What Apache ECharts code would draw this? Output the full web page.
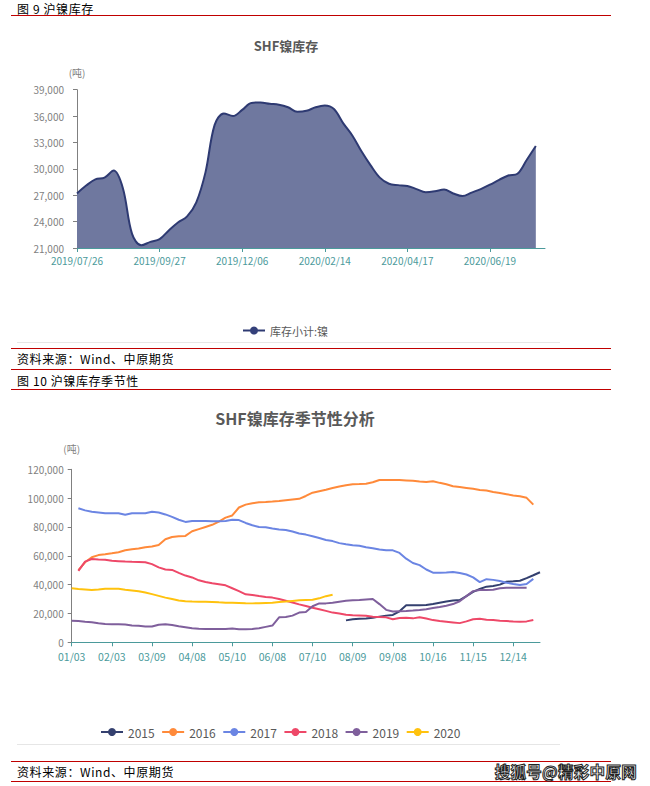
<!DOCTYPE html>
<html><head><meta charset="utf-8">
<script src="https://cdn.jsdelivr.net/npm/echarts@6/dist/echarts.min.js"></script>
<style>
html,body{margin:0;padding:0;background:#fff;}
#wrap{position:relative;width:650px;height:786px;overflow:hidden;font-family:"Noto Sans CJK SC","Noto Sans",sans-serif;}
#chart{position:absolute;left:0;top:0;width:650px;height:786px;}
.hd{position:absolute;left:17px;font-size:12px;line-height:13px;color:#000;letter-spacing:0.6px;white-space:nowrap;}
.rl{position:absolute;left:11px;width:600px;height:0;border-top:1.5px solid #c00000;}
.gl{position:absolute;left:17px;width:543px;height:0;border-top:1px solid #e6e6e6;}
#wm{position:absolute;right:13px;top:760px;font-size:15.5px;font-weight:bold;color:#fff;-webkit-text-stroke:1px #222;white-space:nowrap;letter-spacing:0.3px;}
</style></head>
<body><div id="wrap">
<div id="chart"></div>
<div class="hd" style="top:2px">图 9 沪镍库存</div>
<div class="rl" style="top:15px"></div>
<div class="gl" style="top:342px"></div>
<div class="rl" style="top:348px"></div>
<div class="hd" style="top:352px">资料来源：Wind、中原期货</div>
<div class="rl" style="top:369px"></div>
<div class="hd" style="top:374px">图 10 沪镍库存季节性</div>
<div class="rl" style="top:389px"></div>
<div class="gl" style="top:744px"></div>
<div class="rl" style="top:761px"></div>
<div class="hd" style="top:765px">资料来源：Wind、中原期货</div>
<div class="rl" style="top:781px"></div>
<div id="wm">搜狐号@精彩中原网</div>
</div>
<script>
// ---- Figure 9 data ----
var invDates = ['2019/07/26','2019/08/02','2019/08/09','2019/08/16','2019/08/23','2019/08/30','2019/09/06','2019/09/13','2019/09/20','2019/09/27',
'2019/10/11','2019/10/18','2019/10/25','2019/11/01','2019/11/08','2019/11/15','2019/11/22','2019/11/29','2019/12/06',
'2019/12/13','2019/12/20','2019/12/27','2020/01/03','2020/01/10','2020/01/17','2020/01/23','2020/02/07','2020/02/14',
'2020/02/21','2020/02/28','2020/03/06','2020/03/13','2020/03/20','2020/03/27','2020/04/03','2020/04/10','2020/04/17',
'2020/04/24','2020/04/30','2020/05/08','2020/05/15','2020/05/22','2020/05/29','2020/06/05','2020/06/12','2020/06/19',
'2020/06/24','2020/07/03','2020/07/10','2020/07/17','2020/07/24','2020/07/31'];
var invValues = [27200,28100,28800,29000,29800,27800,22600,21300,21700,22000,
23000,23900,24600,26200,29600,35000,36300,36000,36700,
37500,37550,37400,37300,37000,36500,36600,37000,37200,
36800,35200,33800,32000,30400,29000,28300,28150,28050,
27700,27350,27450,27650,27200,26900,27300,27700,28200,
28750,29250,29450,31000,32600];
var invYTicks = {min:21000, max:39000, interval:3000};

// ---- Figure 10 data ----
var seasonDates = ['01/03','01/08','01/13','01/18','01/23','01/28','02/03','02/09','02/15','02/21','02/27','03/03',
'03/09','03/14','03/19','03/24','03/29','04/03','04/08','04/13','04/18','04/23','04/28','05/04',
'05/10','05/15','05/20','05/25','05/30','06/03','06/08','06/13','06/18','06/23','06/28','07/04',
'07/10','07/15','07/20','07/25','07/30','08/04','08/09','08/14','08/19','08/24','08/29','09/03',
'09/08','09/14','09/20','09/26','10/04','10/10','10/16','10/21','10/26','10/31','11/05','11/10',
'11/15','11/20','11/25','11/30','12/04','12/09','12/14','12/18','12/22','12/26','12/31'];
var years = ['2015','2016','2017','2018','2019','2020'];
var s2015 = [null,null,null,null,null,null,null,null,null,null,null,null,null,null,null,null,null,null,null,null,
null,null,null,null,null,null,null,null,null,null,null,null,null,null,null,null,null,null,null,null,null,
15200,16000,16300,16500,17000,17800,18500,19000,21500,25700,25700,25700,25800,26600,27500,28300,29000,29300,
32000,35000,37000,38600,39000,40000,42000,42300,42700,44500,46500,48600];
var s2016 = [null,50000,55500,59000,60500,61000,61700,62500,63800,64500,65000,66000,66500,67500,71500,73000,73500,73800,77000,78500,80000,81500,83700,86500,
88000,93500,95500,96500,97100,97300,97600,98000,98500,99000,99500,101500,103800,104800,105800,107000,108000,109000,109700,109800,110000,111000,112600,112600,
112500,112600,112300,112000,111500,111200,111700,110600,109600,108300,107700,107100,106500,105700,105300,104300,103500,102700,101900,101300,100200,95500,null];
var s2017 = [null,93000,91500,90500,90000,89500,89500,89500,88500,89500,89500,89500,90500,90000,88700,87000,85000,83500,84200,84200,84200,84000,84000,84200,
85000,84800,82800,81200,80000,79800,79000,78300,77900,76800,75500,74700,73600,72300,71000,70200,68800,68000,67300,67000,66000,65300,64300,63800,
63800,62000,58000,55000,53500,50500,48300,48300,48500,48800,48000,47000,45000,41700,43800,43300,42500,41300,40500,39800,40400,44000,null];
var s2018 = [null,49500,56000,57800,57500,57300,56500,56300,56000,55800,55700,55500,54200,52000,50500,50200,48200,46300,45000,43000,41800,41000,40300,39500,
37500,35500,33300,32800,32100,31500,31000,30000,28800,27600,26300,25200,24000,22900,21800,20600,20000,19100,18800,18600,18400,17800,17500,17300,
16000,16800,17100,16600,17300,16500,15400,14800,14300,13800,13300,14500,16000,16400,15700,15400,15000,14700,14400,14300,14500,15500,null];
var s2019 = [15000,14800,14300,13900,13200,12700,12600,12500,12300,11700,11400,11000,10900,12200,12500,12000,11200,10500,9800,9400,9200,9200,9200,9200,
9500,9000,9000,9200,9800,10700,11600,17300,17500,18500,20600,21000,25000,27000,27000,27500,28200,28800,29200,29400,29700,30000,26500,22500,
21300,21500,21700,22000,22400,23000,23800,24500,25400,26500,28500,32000,35500,36300,36300,36500,37500,37900,37900,37900,37900,null,null];
var s2020 = [37500,37000,36700,36300,36700,37200,37200,37200,36500,36000,35400,34500,33400,32200,31000,30000,29000,28500,28300,28200,28100,28000,27700,27500,
27400,27300,27100,27000,27100,27300,27500,28000,28300,28700,29100,29400,29500,30500,32000,33000,
null,null,null,null,null,null,null,null,null,null,null,null,null,null,null,null,null,null,null,null,null,null,null,null,null,null,null,null,null,null,null];
var seasonSeries = [s2015,s2016,s2017,s2018,s2019,s2020];
var seasonColors = ['#34406f','#ff8a3a','#6b85e3','#ee4868','#7f5f9c','#ffc20e'];
var seasonYTicks = {min:0, max:120000, interval:20000};

var FONT = '"Noto Sans CJK SC","Noto Sans",sans-serif';
var TEAL = '#4b9a9b';
var GRAY = '#7f7f7f';
function fmt(v){ return String(v).replace(/\B(?=(\d{3})+(?!\d))/g, ','); }

var chart = echarts.init(document.getElementById('chart'), null, {renderer:'svg', width:650, height:786});
var series = [{
  name:'库存小计:镍', type:'line', xAxisIndex:0, yAxisIndex:0, data:invValues,
  smooth:0.35, symbol:'circle', showSymbol:false, symbolSize:8,
  lineStyle:{color:'#2e3a72', width:2}, itemStyle:{color:'#34407a'},
  areaStyle:{color:'#6f789f', opacity:1}
}];
years.forEach(function(y,i){
  series.push({name:y, type:'line', xAxisIndex:1, yAxisIndex:1, data:seasonSeries[i],
    symbol:'circle', showSymbol:false, symbolSize:8,
    lineStyle:{color:seasonColors[i], width:2}, itemStyle:{color:seasonColors[i]}});
});
chart.setOption({
  animation:false,
  textStyle:{fontFamily:FONT},
  graphic:[
    {type:'text', x:286, y:45, style:{text:'SHF镍库存', font:'bold 13px '+FONT, fill:'#595959', align:'center', verticalAlign:'middle'}},
    {type:'text', x:295, y:418, style:{text:'SHF镍库存季节性分析', font:'bold 16px '+FONT, fill:'#595959', align:'center', verticalAlign:'middle'}}
  ],
  legend:[
    {data:['库存小计:镍'], left:237, top:320, itemWidth:22, itemHeight:10, itemGap:10,
     textStyle:{color:'#595959', fontSize:11, fontFamily:FONT}},
    {data:years, left:95, top:721, itemWidth:22, itemHeight:10, itemGap:6.5,
     textStyle:{color:'#595959', fontSize:12, fontFamily:FONT}}
  ],
  grid:[
    {left:77, top:89.7, width:468, height:158.3},
    {left:71.7, top:469.3, width:468.3, height:173}
  ],
  xAxis:[
    {type:'category', gridIndex:0, data:invDates, boundaryGap:false,
     axisLine:{lineStyle:{color:TEAL, width:1}},
     axisTick:{show:true, interval:8, length:4, lineStyle:{color:TEAL}},
     axisLabel:{interval:8, color:TEAL, fontSize:10, margin:7, fontFamily:FONT}},
    {type:'category', gridIndex:1, data:seasonDates, boundaryGap:false,
     axisLine:{lineStyle:{color:TEAL, width:1}},
     axisTick:{show:true, interval:5, length:4, lineStyle:{color:TEAL}},
     axisLabel:{interval:5, color:TEAL, fontSize:10.5, margin:9, fontFamily:FONT}}
  ],
  yAxis:[
    {type:'value', gridIndex:0, min:invYTicks.min, max:invYTicks.max, interval:invYTicks.interval,
     name:'(吨)', nameLocation:'end', nameGap:12, nameTextStyle:{color:GRAY, fontSize:10, fontFamily:FONT},
     axisLine:{show:true, lineStyle:{color:'#808080'}},
     axisTick:{show:true, length:4, lineStyle:{color:'#808080'}},
     splitLine:{show:false},
     axisLabel:{color:GRAY, fontSize:10, margin:13, formatter:fmt, fontFamily:FONT}},
    {type:'value', gridIndex:1, min:seasonYTicks.min, max:seasonYTicks.max, interval:seasonYTicks.interval,
     name:'(吨)', nameLocation:'end', nameGap:16, nameTextStyle:{color:GRAY, fontSize:10, fontFamily:FONT},
     axisLine:{show:true, lineStyle:{color:'#808080'}},
     axisTick:{show:true, length:4, lineStyle:{color:'#808080'}},
     splitLine:{show:false},
     axisLabel:{color:GRAY, fontSize:10, margin:8, formatter:fmt, fontFamily:FONT}}
  ],
  series:series
});
</script>
</body></html>
